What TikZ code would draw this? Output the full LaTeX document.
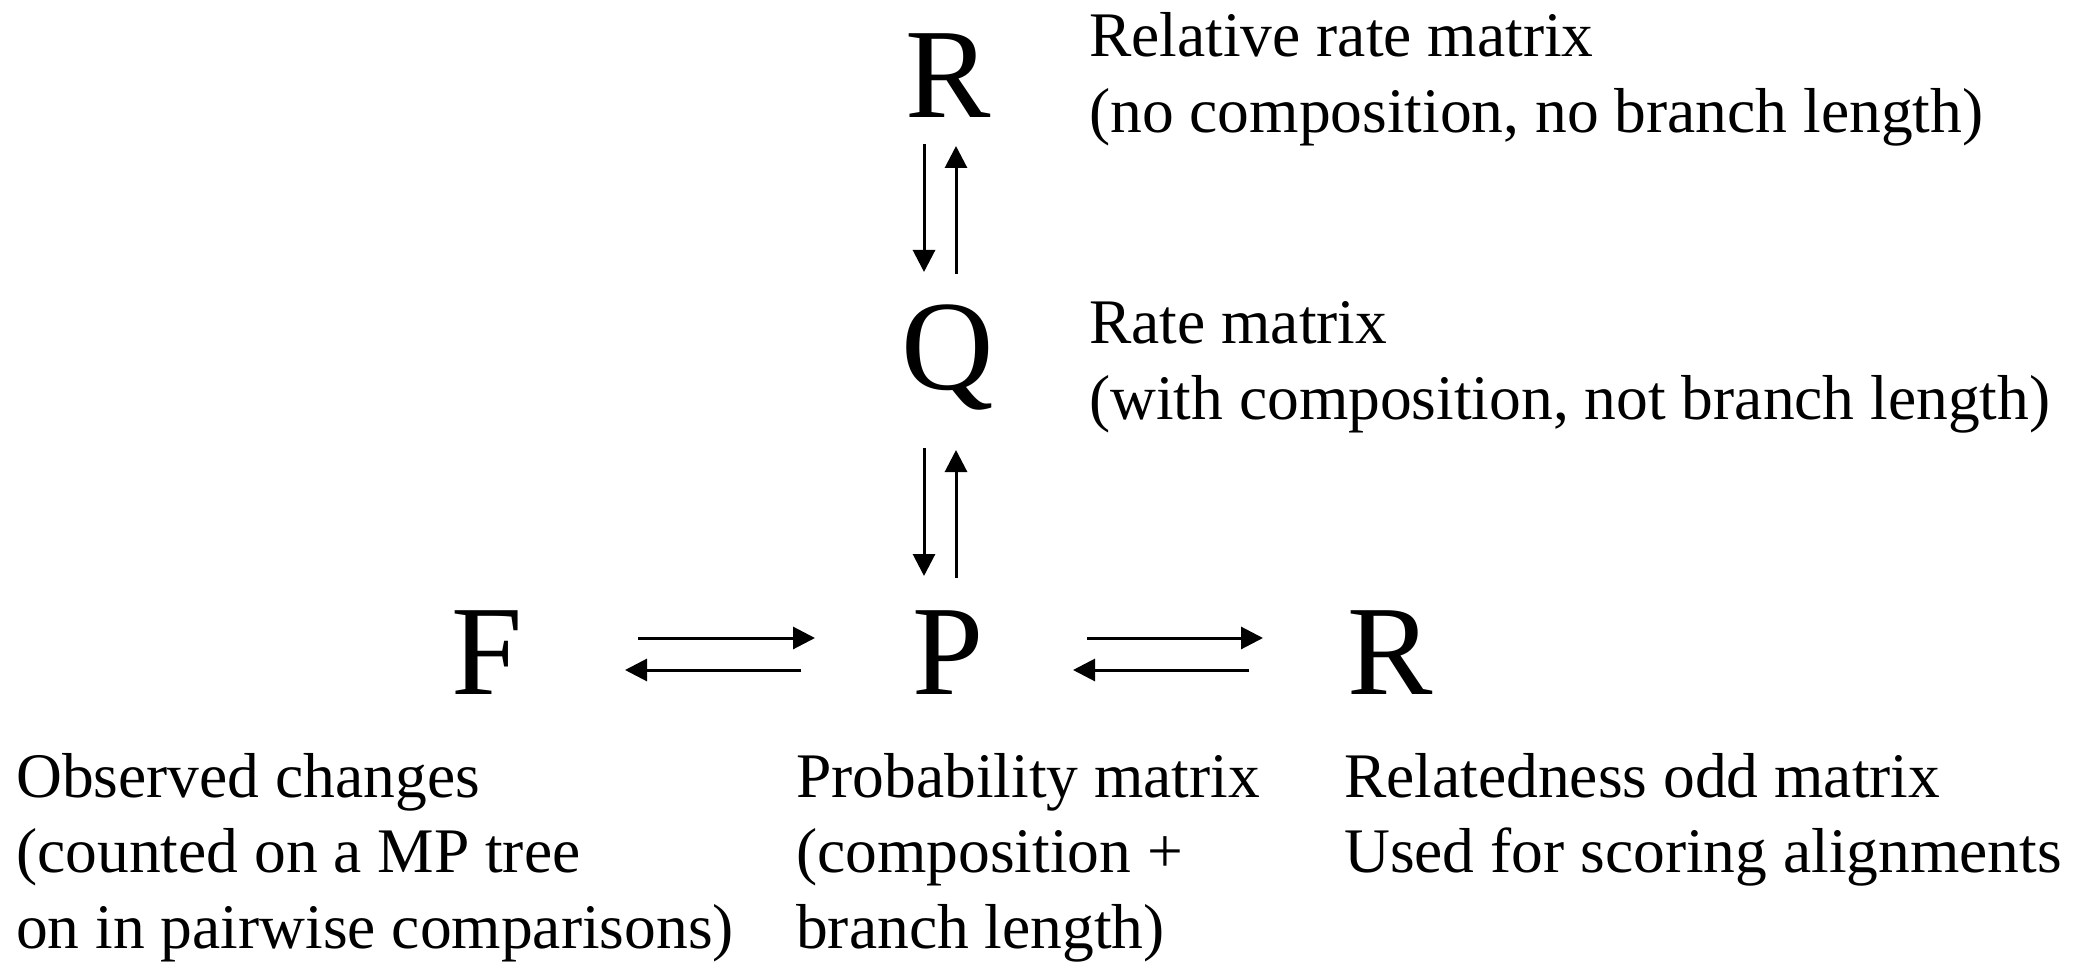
\documentclass[tikz,border=0pt]{standalone}
\usepackage{fontspec}
\setmainfont{Liberation Serif}
\usetikzlibrary{arrows.meta,calc}
\tikzset{
  big/.style={font=\fontsize{128}{150}\selectfont, inner sep=0pt, anchor=base},
  lbl/.style={font=\fontsize{63.5}{75.5}\selectfont, inner sep=0pt, anchor=base west},
  arr/.style={line width=3pt, -{Triangle[length=22pt,width=22pt]}}
}
\newcommand{\lines}[1]{\begin{tabular}[t]{@{}l@{}}#1\end{tabular}}
\begin{document}
\begin{tikzpicture}[x=1pt,y=-1pt]
\useasboundingbox (0,0) rectangle (2091,965);
% big letters
\node[big] (Rt) at (948,118) {R};
\node[big] (Q)  at (948,390) {Q};
\node[big] (P)  at (948,694) {P};
\node[big] (F)  at (487,694) {F};
\node[big] (Rr) at (1390,694) {R};
% labels
\node[lbl] (tR) at (1089,57) {\lines{Relative rate matrix\\(no composition, no branch length)}};
\node[lbl] (tQ) at (1089,344) {\lines{Rate matrix\\(with composition, not branch length)}};
\node[lbl] (tF) at (16,797) {\lines{Observed changes\\(counted on a MP tree\\on in pairwise comparisons)}};
\node[lbl] (tP) at (796,797) {\lines{Probability matrix\\(composition +\\branch length)}};
\node[lbl] (tRr) at (1344,797) {\lines{Relatedness odd matrix\\Used for scoring alignments}};
% vertical arrows
\draw[arr] ($(Rt.base)+(-24,26)$) -- ($(Q.base)+(-24,-118)$);
\draw[arr] ($(Q.base)+(8,-116)$) -- ($(Rt.base)+(8,28)$);
\draw[arr] ($(Q.base)+(-24,58)$) -- ($(P.base)+(-24,-118)$);
\draw[arr] ($(P.base)+(8,-116)$) -- ($(Q.base)+(8,60)$);
% horizontal arrows
\draw[arr] ($(F.base)+(151,-56)$) -- ($(P.base)+(-133,-56)$);
\draw[arr] ($(P.base)+(-147,-24)$) -- ($(F.base)+(138,-24)$);
\draw[arr] ($(P.base)+(139,-56)$) -- ($(Rr.base)+(-127,-56)$);
\draw[arr] ($(Rr.base)+(-141,-24)$) -- ($(P.base)+(125,-24)$);
\end{tikzpicture}
\end{document}
